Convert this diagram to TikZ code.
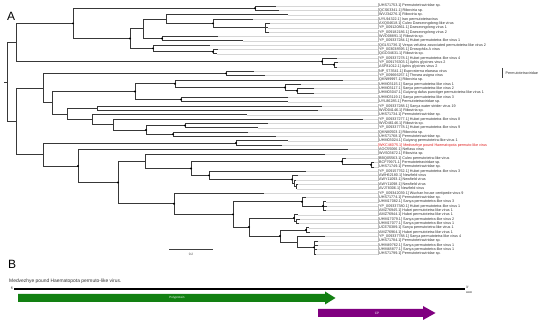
\documentclass[tikz,border=0pt]{standalone}
\usepackage{fontspec}
\setmainfont{Liberation Sans}
\definecolor{labred}{RGB}{225,30,30}
\definecolor{polygreen}{RGB}{18,128,18}
\definecolor{cppurple}{RGB}{128,0,128}
\newcommand\treekids[2]{\foreach \c in {#2}{\draw[br] (#1) |- (\c);}}
\newcommand\ndot[1]{\fill[black] (#1) circle (1.1pt);}
\begin{document}
\begin{tikzpicture}[x=1pt,y=-1pt,
  br/.style={draw=black!78,line width=0.75pt},
  lead/.style={draw=black!16,line width=0.35pt},
  lab/.style={anchor=west,inner sep=0pt,font=\fontsize{3.7}{4}\selectfont,text=black!80},
  tinytxt/.style={inner sep=0pt,font=\fontsize{3.2}{3.5}\selectfont}]
\useasboundingbox (0,0) rectangle (550,323);
\fill[white] (0,0) rectangle (550,323);

\node[anchor=base west,inner sep=0pt,font=\fontsize{12}{12}\selectfont] (A) at (7,21) {A};

% leaves: index / tip x / label
\foreach \i/\tx/\txt in {
0/276/{[UHS71753.1] Permutotetraviridae sp.},
1/279/{[QCS63341.1] Riboviria sp.},
2/288/{[WVJ34276.1] Riboviria sp.},
3/253/{[UYL94322.1] Iran permutotetravirus},
4/270/{[AXQ04618.1] Culex Daeseongdong-like virus},
5/268/{[YP\_009120861.1] Daeseongdong virus 1},
6/269/{[YP\_009182186.1] Daeseongdong virus 2},
7/218/{[WVD08891.1] Riboviria sp.},
8/243/{[YP\_009337284.1] Hubei permutotetra-like virus 1},
9/210/{[QGL51736.1] Vespa velutina associated permutotetra-like virus 2},
10/218/{[YP\_003038595.1] Drosophila A virus},
11/217/{[QGO34631.1] Riboviria sp.},
12/337/{[YP\_009337278.1] Hubei permutotetra-like virus 4},
13/338/{[YP\_009176303.1] Aphis glycines virus 2},
14/337/{[ASF81012.1] Aphis glycines virus 2},
15/254/{[NP\_573541.1] Euprosterna elaeasa virus},
16/265/{[YP\_009666257.1] Thosea asigna virus},
17/343/{[QKN99997.1] Riboviria sp.},
18/301/{[UHM03115.1] Sanya permutotetra-like virus 1},
19/314/{[UHM03117.1] Sanya permutotetra-like virus 2},
20/314/{[UHM03047.1] Guiyang dafus punctiger permutotetra-like virus 1},
21/288/{[UHM03119.1] Sanya permutotetra-like virus 3},
22/288/{[UYL86285.1] Permutotetraviridae sp.},
23/322/{[YP\_009337288.1] Sanya water strider virus 19},
24/318/{[WVD04146.1] Riboviria sp.},
25/247/{[UHS71734.1] Permutotetraviridae sp.},
26/363/{[YP\_009337277.1] Hubei permutotetra-like virus 8},
27/268/{[WVD46146.1] Riboviria sp.},
28/258/{[YP\_009337778.1] Hubei permutotetra-like virus 9},
29/248/{[QKN80503.1] Riboviria sp.},
30/276/{[UHS71768.1] Permutotetraviridae sp.},
31/288/{[UHM03024.1] Guiyang permutotetra-like virus 1},
32/282/{\textcolor{labred}{[WKC46075.1] Medvezhye pound Haematopota permuto-like virus}},
33/348/{[AOC55066.1] Nefiasu virus},
34/325/{[WVS03672.1] Riboviria sp.},
35/346/{[BBQ05563.1] Culex permutotetra-like virus},
36/374/{[BCF79971.1] Permutotetraviridae sp.},
37/374/{[UHS71749.1] Permutotetraviridae sp.},
38/306/{[YP\_009157762.1] Hubei permutotetra-like virus 3},
39/298/{[AWH62180.1] Newfield virus},
40/296/{[AWY11093.1] Newfield virus},
41/298/{[AWY11098.1] Newfield virus},
42/297/{[AVJ78306.1] Newfield virus},
43/264/{[YP\_009342039.1] Wuchan house centipede virus 9},
44/306/{[UHS71774.1] Permutotetraviridae sp.},
45/326/{[UHM17082.1] Sanya permutotetra-like virus 3},
46/327/{[YP\_009337380.1] Hubei permutotetra-like virus 1},
47/326/{[AMZ76945.1] Hubei permutotetra-like virus 1},
48/298/{[AMZ76944.1] Hubei permutotetra-like virus 1},
49/300/{[UHM17079.1] Sanya permutotetra-like virus 2},
50/299/{[UHM17077.1] Sanya permutotetra-like virus 1},
51/309/{[UCE70389.1] Sanya permutotetra-like virus 1},
52/310/{[AMZ76964.1] Hubei permutotetra-like virus 1},
53/325/{[YP\_009337788.1] Sanya permutotetra-like virus 4},
54/318/{[UHS71784.1] Permutotetraviridae sp.},
55/318/{[UHM49762.1] Sanya permutotetra-like virus 1},
56/317/{[UHM48877.1] Sanya permutotetra-like virus 1},
57/316/{[UHS71799.1] Permutotetraviridae sp.}}{
  \pgfmathsetmacro\yy{6+4.35*\i}
  \coordinate (t\i) at (\tx,\yy);
  \node[lab] (l\i) at (378,\yy) {\txt};
  \draw[lead] (t\i) -- (l\i.west);
}

% internal nodes
\coordinate (root) at (7,81.9);
\coordinate (rstub) at (4,81.9);
\coordinate (nU) at (16,42.4);
\coordinate (nL) at (16,121.3);
\coordinate (n73) at (73,23.4);
\coordinate (n255) at (255,8.2);
\coordinate (n130) at (130,38.6);
\coordinate (n143) at (143,28.8);
\coordinate (n166) at (166,19.05);
\coordinate (n213) at (213,23.4);
\coordinate (n265) at (265,27.75);
\coordinate (n162) at (162,38.6);
\coordinate (n153) at (153,48.4);
\coordinate (n213b) at (213,51.7);
\coordinate (n322) at (322,61.5);
\coordinate (n334) at (334,64.7);
\coordinate (n43) at (43,88.1);
\coordinate (n226) at (226,73.4);
\coordinate (n52) at (52,102.8);
\coordinate (n135) at (135,91.6);
\coordinate (n175) at (175,83.8);
\coordinate (n285) at (285,87.6);
\coordinate (n297b) at (297,90.8);
\coordinate (n181) at (181,99.5);
\coordinate (n67) at (67,114);
\coordinate (n97) at (97,108.2);
\coordinate (n92) at (92,119.7);
\coordinate (n113) at (113,124.6);
\coordinate (n146) at (146,130);
\coordinate (n185) at (185,125.6);
\coordinate (n173) at (173,134.3);
\coordinate (n43b) at (43,154.5);
\coordinate (n236) at (236,143);
\coordinate (n78) at (78,166);
\coordinate (n118) at (118,182.5);
\coordinate (n145) at (145,161.2);
\coordinate (n342) at (342,161.5);
\coordinate (n371) at (371,164.8);
\coordinate (n191) at (191,168.5);
\coordinate (n209) at (209,175.4);
\coordinate (n292) at (292,179.5);
\coordinate (n294a) at (294,183.3);
\coordinate (n296a) at (296,186.5);
\coordinate (n174) at (174,203.7);
\coordinate (n233) at (233,214.4);
\coordinate (n302) at (302,201.75);
\coordinate (n323) at (323,206.1);
\coordinate (n249) at (249,227);
\coordinate (n294) at (294,218.1);
\coordinate (n296) at (296,221.3);
\coordinate (n280) at (280,236);
\coordinate (n306) at (306,230);
\coordinate (n297) at (297,242);
\coordinate (n314) at (314,247.4);

% branches
\draw[br] (rstub) -- (root);
\treekids{root}{nU,nL}
\treekids{nU}{n73,n322}
\treekids{n73}{n255,n130}
\treekids{n255}{t0,t1}
\treekids{n130}{n143,n153}
\treekids{n143}{n166,n162}
\treekids{n166}{t2,n213}
\treekids{n213}{t3,n265}
\treekids{n265}{t4,t5,t6}
\treekids{n162}{t7,t8}
\treekids{n153}{t9,n213b}
\treekids{n213b}{t10,t11}
\treekids{n322}{t12,n334}
\treekids{n334}{t13,t14}
\treekids{nL}{n43,n43b}
\treekids{n43}{n226,n52}
\treekids{n226}{t15,t16}
\treekids{n52}{n135,n67}
\treekids{n135}{n175,n181}
\treekids{n175}{t17,n285}
\treekids{n285}{t18,n297b}
\treekids{n297b}{t19,t20}
\treekids{n181}{t21,t22}
\treekids{n67}{n97,n92}
\treekids{n97}{t23,t24}
\treekids{n92}{t25,n113}
\treekids{n113}{t26,n146}
\treekids{n146}{n185,n173}
\treekids{n185}{t27,t28}
\treekids{n173}{t29,t30}
\treekids{n43b}{n236,n78}
\treekids{n236}{t31,t32}
\treekids{n78}{t33,n118}
\treekids{n118}{n145,n174}
\treekids{n145}{t34,n191}
\treekids{n191}{n342,n209}
\treekids{n342}{t35,n371}
\treekids{n371}{t36,t37}
\treekids{n209}{t38,n292}
\treekids{n292}{t39,n294a}
\treekids{n294a}{t40,n296a}
\treekids{n296a}{t41,t42}
\treekids{n174}{t43,n233}
\treekids{n233}{n302,n249}
\treekids{n302}{t44,n323}
\treekids{n323}{t45,t46,t47}
\treekids{n249}{n294,n280}
\treekids{n294}{t48,n296}
\treekids{n296}{t49,t50}
\treekids{n280}{n306,n297}
\treekids{n306}{t51,t52}
\treekids{n297}{t53,n314}
\treekids{n314}{t54,t55,t56,t57}

% support dots
\foreach \n in {n73,n255,n130,n162,n153,n213,n213b,n322,n334,n226,n135,n175,n285,n297b,n181,n185,n173,n146,n236,n78,n118,n191,n209,n342,n371,n292,n174,n233,n249,n302,n323,n294,n280,n306,n314}{\ndot{\n}}

% family bar
\coordinate (fb1) at (502,68);
\coordinate (fb2) at (502,78);
\draw[line width=0.6pt,black!75] (fb1) -- (fb2);
\node[lab] (fam) at (505.5,73) {Permutotetraviridae};

% scale bar
\coordinate (sb1) at (169,249);
\coordinate (sb2) at (213,249);
\draw[line width=0.75pt,black!75] (sb1) -- (sb2);
\node[tinytxt,text=black!75] (sbl) at (191,254) {0.2};

% ---- part B ----
\node[anchor=base west,inner sep=0pt,font=\fontsize{12}{12}\selectfont] (B) at (8,269) {B};
\node[anchor=west,inner sep=0pt,font=\fontsize{4.9}{5}\selectfont,text=black!80] (gtitle) at (9,281) {Medvezhye pound Haematopota permuto-like virus.};
\coordinate (g5) at (14,289);
\coordinate (g3) at (465,289);
\draw[line width=1.3pt,black] (g5) -- (g3);
\node[tinytxt,anchor=east] (p5) at (13.5,288) {5'};
\node[tinytxt,anchor=west] (p3) at (466,287.5) {3'};
\node[tinytxt,anchor=west,font=\fontsize{2.6}{3}\selectfont] (glen) at (466,292.5) {4630};

\fill[polygreen] (18,294) -- (325,294) -- (325,291.5) -- (335.5,298) -- (325,304.5) -- (325,302) -- (18,302) -- cycle;
\node[tinytxt,text=white,font=\fontsize{3}{3}\selectfont] (poly) at (177,298) {Polyprotein};

\fill[cppurple] (318,309) -- (423,309) -- (423,306) -- (435.5,313) -- (423,320) -- (423,317) -- (318,317) -- cycle;
\node[tinytxt,text=white,font=\fontsize{3.2}{3}\selectfont] (cp) at (377,313) {CP};
\end{tikzpicture}
\end{document}
